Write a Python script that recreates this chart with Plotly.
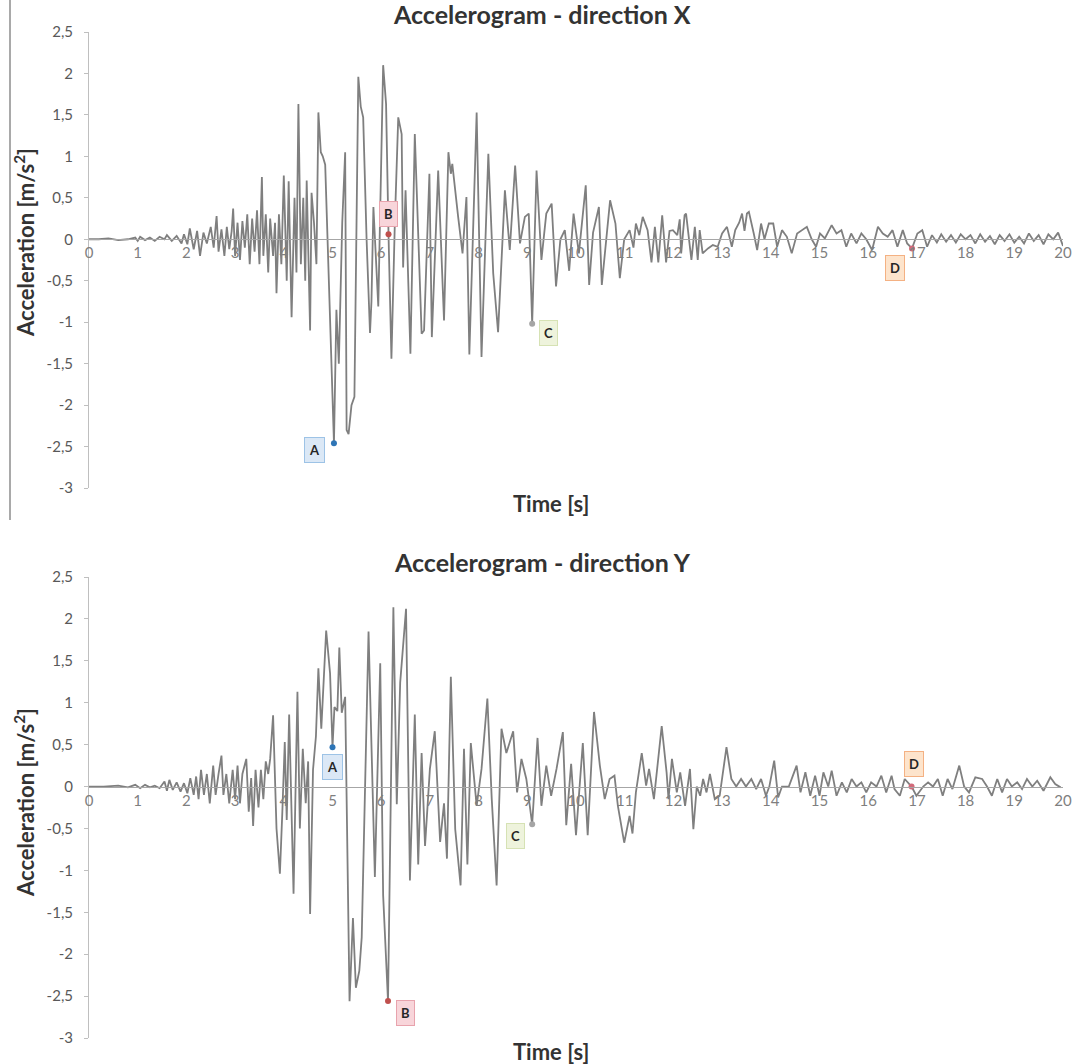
import plotly.graph_objects as go

# ---------------- data ----------------
time_x = [0.0, 0.2, 0.4, 0.6, 0.8, 0.95, 1.0, 1.05, 1.15, 1.25, 1.35, 1.45, 1.55, 1.6, 1.7, 1.8, 1.9, 1.95,
          2.02, 2.07, 2.15, 2.22, 2.28, 2.35, 2.42, 2.5, 2.56, 2.62, 2.66, 2.72, 2.78, 2.83, 2.88, 2.93, 2.96,
          3.0, 3.05, 3.1, 3.15, 3.2, 3.25, 3.3, 3.35, 3.4, 3.45, 3.5, 3.55, 3.58, 3.63, 3.68, 3.72, 3.78, 3.82,
          3.85, 3.9, 3.95, 4.0, 4.06, 4.1, 4.16, 4.22, 4.26, 4.3, 4.35, 4.4, 4.44, 4.47, 4.54, 4.57, 4.62, 4.67,
          4.71, 4.76, 4.8, 4.85, 4.89, 4.95, 5.03, 5.08, 5.13, 5.2, 5.26, 5.29, 5.33, 5.39, 5.45, 5.53, 5.58,
          5.63, 5.7, 5.77, 5.8, 5.84, 5.94, 6.04, 6.1, 6.15, 6.21, 6.28, 6.35, 6.42, 6.45, 6.5, 6.6, 6.69,
          6.76, 6.83, 6.88, 6.99, 7.04, 7.17, 7.29, 7.38, 7.43, 7.46, 7.58, 7.67, 7.75, 7.81, 7.96, 8.06, 8.2,
          8.3, 8.4, 8.54, 8.64, 8.75, 8.85, 8.95, 9.03, 9.1, 9.19, 9.29, 9.39, 9.5, 9.59, 9.68, 9.77, 9.86,
          9.95, 10.06, 10.2, 10.27, 10.35, 10.47, 10.53, 10.63, 10.7, 10.81, 10.9, 10.99, 11.1, 11.18, 11.23,
          11.3, 11.37, 11.47, 11.55, 11.62, 11.69, 11.77, 11.85, 11.92, 11.99, 12.08, 12.13, 12.16, 12.23,
          12.26, 12.37, 12.44, 12.5, 12.54, 12.6, 12.71, 12.81, 12.91, 13.0, 13.1, 13.2, 13.27, 13.35, 13.41,
          13.46, 13.51, 13.55, 13.65, 13.72, 13.8, 13.87, 13.96, 14.05, 14.13, 14.23, 14.33, 14.43, 14.54,
          14.64, 14.74, 14.84, 14.93, 15.01, 15.11, 15.25, 15.35, 15.45, 15.55, 15.65, 15.76, 15.86, 15.96,
          16.08, 16.2, 16.3, 16.4, 16.5, 16.6, 16.71, 16.8, 16.9, 17.01, 17.11, 17.21, 17.31, 17.41, 17.5,
          17.6, 17.7, 17.8, 17.9, 18.0, 18.1, 18.2, 18.3, 18.4, 18.5, 18.6, 18.7, 18.8, 18.9, 19.0, 19.1,
          19.2, 19.3, 19.4, 19.5, 19.6, 19.7, 19.8, 19.9, 20.0]
accel_x = [0.0, 0.0, 0.01, -0.01, 0.0, 0.02, -0.02, 0.03, -0.01, 0.02, -0.02, 0.03, 0.0, 0.05, -0.02, 0.04, -0.05, 0.06,
           -0.06, 0.13, -0.12, 0.1, -0.2, 0.08, -0.05, 0.15, -0.1, 0.28, -0.15, 0.12, -0.2, 0.15, -0.12, 0.1, 0.37,
           -0.2, 0.2, -0.25, 0.22, -0.1, 0.3, -0.3, 0.25, -0.15, 0.35, -0.3, 0.75, -0.2, 0.3, -0.4, 0.25, -0.2, 0.2,
           -0.65, 0.3, -0.3, 0.77, -0.5, 0.7, -0.94, 0.5, -0.4, 1.63, -0.3, 0.5, -0.5, 0.71, -1.1, 0.56, 0.2, -0.3,
           1.53, 1.05, 1.0, 0.9, 0.1, -0.8, -2.46, -0.85, -1.5, 0.2, 1.05, -2.3, -2.35, -2.0, -1.9, 1.96, 1.6,
           1.47, 0.0, -1.13, -0.75, 0.39, -0.81, 2.1, 1.63, 0.06, -1.44, 0.2, 1.47, 1.27, -0.34, 0.59, -1.38, 1.27,
           0.0, -1.14, -1.1, 0.79, -1.18, 0.83, -0.98, 1.05, 0.79, 0.91, 0.27, -0.17, 0.51, -1.39, 1.53, -1.42, 1.03,
           -0.41, -1.12, 0.59, -0.13, 0.89, -0.05, 0.27, 0.31, -1.02, 0.83, -0.25, 0.31, 0.43, -0.57, 0.0, 0.11, -0.38,
           0.31, -0.17, 0.65, -0.55, 0.08, 0.39, -0.55, 0.08, 0.47, 0.19, -0.47, 0.0, 0.11, -0.1, 0.19,
           0.05, 0.27, 0.11, -0.28, 0.15, -0.28, 0.29, -0.28, 0.1, 0.11, 0.05, 0.24, -0.17, 0.29,
           0.31, -0.25, 0.15, -0.25, 0.11, -0.17, -0.11, -0.07, -0.09, 0.07, 0.15, -0.09, 0.11, 0.2, 0.31,
           0.1, 0.31, 0.33, 0.07, -0.13, 0.19, 0.0, 0.19, 0.19, -0.09, 0.11, 0.03, -0.17, 0.07,
           0.11, 0.15, 0.0, -0.09, 0.07, 0.01, 0.17, 0.07, 0.11, -0.09, 0.07, -0.05, 0.07, 0.0,
           -0.13, 0.15, 0.07, 0.03, 0.11, -0.09, 0.11, -0.05, -0.11, 0.07, 0.11, -0.09, 0.05, -0.04, 0.06,
           -0.03, 0.05, -0.04, 0.06, 0.0, 0.05, -0.05, 0.06, -0.03, 0.04, -0.06, 0.05, -0.02, 0.06, -0.04, 0.03,
           -0.05, 0.07, -0.02, 0.05, -0.06, 0.06, 0.0, 0.08, -0.08]

time_y = [0.0, 0.3, 0.6, 0.8, 0.95, 1.05, 1.15, 1.25, 1.35, 1.45, 1.55, 1.6, 1.65, 1.72, 1.8, 1.88, 1.95,
          2.02, 2.08, 2.15, 2.2, 2.25, 2.3, 2.36, 2.42, 2.48, 2.55, 2.6, 2.66, 2.72, 2.76, 2.82, 2.88, 2.95,
          3.0, 3.05, 3.1, 3.15, 3.23, 3.28, 3.33, 3.37, 3.42, 3.48, 3.53, 3.58, 3.63, 3.68, 3.72, 3.78, 3.85,
          3.92, 3.97, 4.02, 4.06, 4.11, 4.2, 4.28, 4.33, 4.39, 4.45, 4.5, 4.54, 4.6, 4.66, 4.71, 4.77, 4.87,
          4.95, 5.0, 5.04, 5.1, 5.14, 5.19, 5.26, 5.35, 5.42, 5.48, 5.55, 5.6, 5.74, 5.87, 5.98, 6.04, 6.14,
          6.25, 6.32, 6.39, 6.51, 6.59, 6.69, 6.76, 6.83, 6.9, 7.0, 7.1, 7.21, 7.29, 7.35, 7.43, 7.52, 7.58,
          7.63, 7.7, 7.77, 7.84, 7.96, 8.06, 8.18, 8.27, 8.37, 8.47, 8.57, 8.71, 8.79, 8.88, 8.98, 9.1, 9.21,
          9.29, 9.39, 9.49, 9.6, 9.73, 9.8, 9.9, 10.0, 10.14, 10.24, 10.37, 10.49, 10.59, 10.69, 10.79,
          10.86, 10.99, 11.1, 11.16, 11.23, 11.35, 11.44, 11.5, 11.6, 11.76, 11.86, 11.9, 11.97, 12.07,
          12.14, 12.24, 12.34, 12.41, 12.48, 12.55, 12.61, 12.68, 12.75, 12.85, 12.95, 13.09, 13.19, 13.29,
          13.39, 13.49, 13.6, 13.7, 13.8, 13.9, 13.97, 14.07, 14.15, 14.23, 14.37, 14.53, 14.61, 14.71,
          14.81, 14.91, 15.0, 15.08, 15.18, 15.25, 15.35, 15.46, 15.56, 15.66, 15.76, 15.86, 15.96, 16.06,
          16.17, 16.27, 16.37, 16.48, 16.54, 16.65, 16.75, 16.89, 16.99, 17.13, 17.23, 17.33, 17.43, 17.53,
          17.63, 17.73, 17.87, 17.97, 18.07, 18.2, 18.34, 18.44, 18.54, 18.65, 18.75, 18.85, 18.95, 19.06,
          19.16, 19.26, 19.37, 19.47, 19.6, 19.74, 19.84, 19.95]
accel_y = [0.0, 0.0, 0.01, -0.01, 0.02, -0.02, 0.02, -0.01, 0.01, -0.02, 0.06, -0.05, 0.08, -0.04, 0.05, -0.06, 0.04,
           -0.08, 0.1, -0.1, 0.12, -0.15, 0.2, -0.1, 0.15, -0.2, 0.25, -0.1, 0.15, 0.37, -0.1, 0.15, -0.2, 0.2,
           -0.15, 0.25, -0.2, 0.15, 0.33, -0.3, 0.1, -0.47, 0.2, -0.25, 0.2, -0.15, 0.3, 0.15, 0.33, 0.85, -0.5,
           -1.04, -0.3, 0.53, -0.4, 0.86, -1.28, 1.13, -0.5, 0.45, -0.2, 0.3, -1.52, 0.2, 0.6, 1.41, 0.69, 1.86,
           1.35, 0.47, 0.95, 0.9, 1.66, 0.88, 1.07, -2.56, -1.57, -2.4, -2.2, -1.8, 1.85, -1.08, 1.47, -1.3, -2.56,
           2.14, -0.21, 1.24, 2.12, -1.12, 0.86, -0.93, 0.4, -0.71, 0.21, 0.66, -0.66, -0.2, -0.86, 1.31, -0.51, -0.86,
           -1.18, 0.45, -0.93, 0.52, -0.23, 0.21, 1.05, -0.15, -1.18, 0.69, 0.4, 0.66, -0.07, 0.33, 0.09, -0.45, 0.58,
           -0.23, 0.25, -0.11, 0.21, 0.65, -0.46, 0.27, -0.58, 0.52, -0.58, 0.89, 0.25, -0.15, 0.09, 0.13,
           -0.23, -0.67, -0.35, -0.56, -0.07, 0.4, 0.01, 0.21, -0.15, 0.72, 0.17, -0.15, 0.33, -0.07,
           0.17, -0.23, 0.21, -0.51, 0.0, -0.11, 0.09, -0.07, 0.15, -0.15, -0.11, 0.47, 0.09, 0.0,
           0.09, 0.0, 0.09, -0.03, 0.09, -0.11, 0.0, 0.31, -0.13, 0.0, 0.0, 0.25, -0.07, 0.17,
           -0.11, 0.13, -0.11, 0.17, 0.0, 0.19, -0.11, 0.05, -0.07, 0.09, 0.0, 0.05, -0.07, 0.05,
           0.0, 0.13, -0.07, 0.13, -0.03, -0.11, 0.09, 0.0, -0.11, 0.0, 0.05, 0.0, 0.09, -0.11,
           0.09, -0.03, 0.25, 0.0, -0.07, 0.11, 0.09, 0.0, -0.11, 0.09, -0.07, 0.09, 0.0, 0.05,
           -0.03, 0.09, 0.0, 0.07, -0.05, 0.11, 0.03, -0.01]

# labelled points  (time, acceleration) and label positions
points_x_label = ["A", "B", "C", "D"]
points_x_t = [5.03, 6.15, 9.1, 16.9]
points_x_a = [-2.46, 0.06, -1.02, -0.11]
labels_x_t = [4.64, 6.16, 9.43, 16.55]
labels_x_a = [-2.54, 0.31, -1.13, -0.35]

points_y_label = ["A", "B", "C", "D"]
points_y_t = [5.0, 6.14, 9.1, 16.89]
points_y_a = [0.47, -2.56, -0.45, 0.0]
labels_y_t = [4.99, 6.49, 8.75, 16.94]
labels_y_a = [0.23, -2.7, -0.59, 0.27]

y_tick_vals = [2.5, 2, 1.5, 1, 0.5, 0, -0.5, -1, -1.5, -2, -2.5, -3]
y_tick_text = ["2,5", "2", "1,5", "1", "0,5", "0", "-0,5", "-1", "-1,5", "-2", "-2,5", "-3"]
x_tick_vals = list(range(0, 21))

# ---------------- styling ----------------
W, H = 1073, 1064
FONT = "Lato, 'Open Sans', sans-serif"
LINE = "#7f7f7f"
dot_colors = ["#2e75b6", "#c0504d", "#a5a5a5", "#d26a7a"]
box_fill = ["#dbe8f6", "#f8d5da", "#eef3dc", "#fde4cc"]
box_line = ["#9dc3e6", "#e8a3ad", "#d6e2b4", "#f4b183"]

YR = [-3, 2.5]
top_dom = [(H - 488) / H, (H - 32) / H]
bot_dom = [(H - 1038) / H, (H - 577) / H]
x_dom = [89 / W, 1063 / W]

def zero_pos(dom):
    return dom[0] + (0 - YR[0]) / (YR[1] - YR[0]) * (dom[1] - dom[0])

fig = go.Figure()
fig.add_trace(go.Scatter(x=time_x, y=accel_x, mode="lines", line=dict(color=LINE, width=1.8),
                         xaxis="x", yaxis="y", showlegend=False, hoverinfo="skip"))
fig.add_trace(go.Scatter(x=time_y, y=accel_y, mode="lines", line=dict(color=LINE, width=1.8),
                         xaxis="x2", yaxis="y2", showlegend=False, hoverinfo="skip"))
fig.add_trace(go.Scatter(x=points_x_t, y=points_x_a, mode="markers",
                         marker=dict(size=6, color=dot_colors), xaxis="x", yaxis="y",
                         showlegend=False, hoverinfo="skip"))
fig.add_trace(go.Scatter(x=points_y_t, y=points_y_a, mode="markers",
                         marker=dict(size=6, color=dot_colors), xaxis="x2", yaxis="y2",
                         showlegend=False, hoverinfo="skip"))

annotations = []
for i, lab in enumerate(points_x_label):
    annotations.append(dict(x=labels_x_t[i], y=labels_x_a[i], xref="x", yref="y", text="<b>%s</b>" % lab,
                            showarrow=False, bgcolor=box_fill[i], bordercolor=box_line[i], borderwidth=1,
                            borderpad=4, font=dict(family=FONT, size=13, color="#262626")))
for i, lab in enumerate(points_y_label):
    annotations.append(dict(x=labels_y_t[i], y=labels_y_a[i], xref="x2", yref="y2", text="<b>%s</b>" % lab,
                            showarrow=False, bgcolor=box_fill[i], bordercolor=box_line[i], borderwidth=1,
                            borderpad=4, font=dict(family=FONT, size=13, color="#262626")))

# titles
for title, yc in [("Accelerogram - direction X", 14), ("Accelerogram - direction Y", 562)]:
    annotations.append(dict(x=542 / W, y=1 - yc / H, xref="paper", yref="paper", text="<b>%s</b>" % title,
                            showarrow=False, xanchor="center", yanchor="middle",
                            font=dict(family=FONT, size=25, color="#333333")))
for yc in [503, 1051]:
    annotations.append(dict(x=551 / W, y=1 - yc / H, xref="paper", yref="paper", text="<b>Time [s]</b>",
                            showarrow=False, xanchor="center", yanchor="middle",
                            font=dict(family=FONT, size=22, color="#333333")))
for yc in [243, 803]:
    annotations.append(dict(x=24 / W, y=1 - yc / H, xref="paper", yref="paper",
                            text="<b>Acceleration [m/s<sup>2</sup>]</b>", textangle=-90,
                            showarrow=False, xanchor="center", yanchor="middle",
                            font=dict(family=FONT, size=22, color="#333333")))

xaxis_common = dict(range=[0, 20], domain=x_dom, tickvals=x_tick_vals, showgrid=False, zeroline=False,
                    showline=True, linecolor="#a6a6a6", linewidth=1, ticks="", anchor="free",
                    automargin=False,
                    tickfont=dict(family=FONT, size=15, color="#7f7f7f"), fixedrange=True)
yaxis_common = dict(range=YR, tickvals=y_tick_vals, ticktext=y_tick_text, showgrid=False, zeroline=False,
                    showline=True, linecolor="#bfbfbf", linewidth=1, ticks="outside", ticklen=4,
                    tickcolor="#bfbfbf", ticklabelstandoff=8, automargin=False,
                    tickfont=dict(family=FONT, size=15, color="#595959"),
                    fixedrange=True)

fig.update_layout(
    width=W, height=H, margin=dict(l=0, r=0, t=0, b=0, autoexpand=False),
    paper_bgcolor="white", plot_bgcolor="white",
    xaxis=dict(xaxis_common, position=zero_pos(top_dom)),
    yaxis=dict(yaxis_common, domain=top_dom, anchor="x"),
    xaxis2=dict(xaxis_common, position=zero_pos(bot_dom)),
    yaxis2=dict(yaxis_common, domain=bot_dom, anchor="x2"),
    annotations=annotations,
    shapes=[dict(type="line", xref="paper", yref="paper", x0=10 / W, x1=10 / W,
                 y0=1 - 520 / H, y1=1, line=dict(color="#8c8c8c", width=1.5))],
)

fig.write_html("out.html")
